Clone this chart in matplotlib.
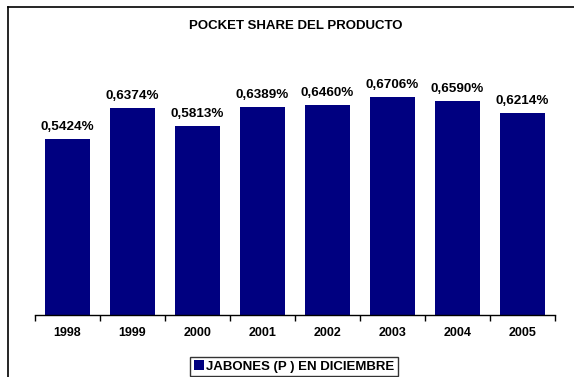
import matplotlib.pyplot as plt
from matplotlib.lines import Line2D

plt.rcParams['font.family'] = ['Liberation Sans', 'DejaVu Sans']
plt.rcParams['font.weight'] = 'bold'

# Data
years = ['1998', '1999', '2000', '2001', '2002', '2003', '2004', '2005']
share = [0.5424, 0.6374, 0.5813, 0.6389, 0.6460, 0.6706, 0.6590, 0.6214]
title = 'POCKET SHARE DEL PRODUCTO'
series_name = 'JABONES (P ) EN DICIEMBRE'

W, H = 574, 377
fig = plt.figure(figsize=(W / 100, H / 100), dpi=100)
ax = fig.add_axes([35 / W, (H - 315) / H, 520 / W, 260 / H])

x = list(range(len(years)))
bars = ax.bar(x, share, width=0.68, color='#000080', label=series_name)

for xi, v in zip(x, share):
    ax.annotate(f'{v:.4f}'.replace('.', ',') + '%', (xi, v),
                xytext=(0, 6.5), textcoords='offset points',
                ha='center', va='baseline', fontsize=9.7, fontweight='bold')

ax.set_xlim(-0.5, len(years) - 0.5)
ax.set_ylim(0, 0.8)
ax.set_xticks([i - 0.5 for i in range(len(years) + 1)])
ax.set_xticklabels([])
ax.tick_params(axis='x', which='major', direction='out', length=4, width=1, color='black')
ax.set_xticks(x, minor=True)
ax.set_xticklabels(years, minor=True, fontsize=9, fontweight='bold')
ax.tick_params(axis='x', which='minor', length=0, pad=9)
ax.set_yticks([])
for s in ['left', 'right', 'top']:
    ax.spines[s].set_visible(False)
ax.spines['bottom'].set_linewidth(1)

fig.text(296 / W, 1 - 26 / H, title, ha='center', va='center',
         fontsize=9.5, fontweight='bold')

leg = fig.legend(handles=[bars], labels=[series_name], loc='upper center',
                 bbox_to_anchor=(294 / W, 1 - 357 / H), fontsize=9.5,
                 frameon=True, fancybox=False, edgecolor='black',
                 handlelength=0.75, handleheight=0.75, handletextpad=0.2,
                 borderpad=0.25, borderaxespad=0)
leg.get_frame().set_linewidth(1)
for t in leg.get_texts():
    t.set_fontweight('bold')

# outer chart frame (cut off at right and bottom)
fig.add_artist(Line2D([8 / W, 8 / W], [0, 1 - 7 / H], transform=fig.transFigure,
                      color='black', linewidth=1.2))
fig.add_artist(Line2D([8 / W, 1], [1 - 7 / H, 1 - 7 / H], transform=fig.transFigure,
                      color='black', linewidth=1.2))

fig.savefig('out.png', dpi=100)
